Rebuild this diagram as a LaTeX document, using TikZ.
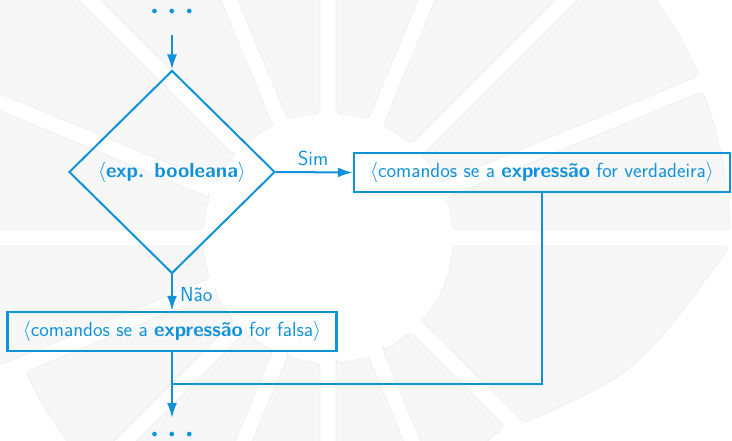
\RequirePackage{fix-cm}
\documentclass[tikz,border=0pt]{standalone}
\usepackage{fontspec}
\usetikzlibrary{shapes.geometric,arrows.meta,calc}
\definecolor{fcblue}{RGB}{16,146,218}
\definecolor{bgfill}{RGB}{247,247,247}
\definecolor{bgline}{RGB}{234,234,234}
\newcommand\flowdot{\makebox[17.5pt]{$\bullet$}}
\begin{document}
\begin{tikzpicture}[x=1pt,y=1pt,
  bgsec/.style={fill=bgfill,draw=bgline,line width=0.5pt,rounded corners=4pt},
  every node/.style={text=fcblue,font=\sffamily\fontsize{20.4}{24}\selectfont},
  cmdbox/.style={draw=fcblue,line width=2.4pt,minimum height=39pt,inner sep=0pt},
  decis/.style={diamond,draw=fcblue,line width=2pt,minimum width=206pt,minimum height=203pt,inner sep=0pt},
  flow/.style={draw=fcblue,line width=2pt},
  arr/.style={flow,-{Latex[length=15pt,width=10pt]}},
  lbl/.style={inner sep=0pt},
  dotsnode/.style={font=\fontsize{12}{12}\selectfont,inner sep=0pt}
]
\useasboundingbox (0,0) rectangle (732,440);
\coordinate (c) at (328,202);
\pgfmathsetmacro\dI{asin(8/125)}
% background sunburst
\foreach \a/\b/\R in {0/22.5/402, 22.5/45/405, 45/67.5/470, 67.5/90/470, 90/112.5/470, 112.5/135/470, 135/157.5/470, 157.5/180/470, 180/202.5/420, 202.5/225/330, 225/247.5/292, 247.5/270/292, 270/292.5/280, 292.5/315/258}{
  \pgfmathsetmacro\dO{asin(8/\R)}
  \draw[bgsec] ($(c)+(\a+\dI:125pt)$) -- ($(c)+(\a+\dO:\R pt)$)
    arc[start angle=\a+\dO, end angle=\b-\dO, radius=\R pt]
    -- ($(c)+(\b-\dI:125pt)$)
    arc[start angle=\b-\dI, end angle=\a+\dI, radius=125pt] -- cycle;
}
\draw[bgsec] ($(c)+(-45+\dI:125pt)$) -- ($(c)+(196.6,-185)$)
  .. controls ($(c)+(310.7,-133.5)$) .. ($(c)+(402,-8)$)
  -- ($(c)+(-\dI:125pt)$)
  arc[start angle=-\dI, end angle=-45+\dI, radius=125pt] -- cycle;
% flowchart
\node[dotsnode] (topdots) at (172,428) {\flowdot\flowdot\flowdot};
\coordinate (intop) at (172,405);
\node[decis] (dec) at (172,268) {$\langle$\textbf{exp. booleana}$\rangle$};
\node[cmdbox,minimum width=376pt] (yes) at (542,267.5) {$\langle$comandos se a \textbf{expressão} for verdadeira$\rangle$};
\node[cmdbox,minimum width=329pt] (no) at (172,108.5) {$\langle$comandos se a \textbf{expressão} for falsa$\rangle$};
\node[lbl] (sim) at (313,282) {Sim};
\node[lbl,anchor=west] (nao) at (180,145) {Não};
\coordinate (mg) at (172,56);
\coordinate (outbot) at (172,22);
\node[dotsnode] (botdots) at (172,5) {\flowdot\flowdot\flowdot};
\draw[arr] (intop) -- (dec.north);
\draw[arr] (dec.east) -- (yes.west);
\draw[arr] (dec.south) -- (no.north);
\draw[flow] (yes.south) |- (mg);
\draw[arr] (no.south) -- (outbot);
\end{tikzpicture}
\end{document}
